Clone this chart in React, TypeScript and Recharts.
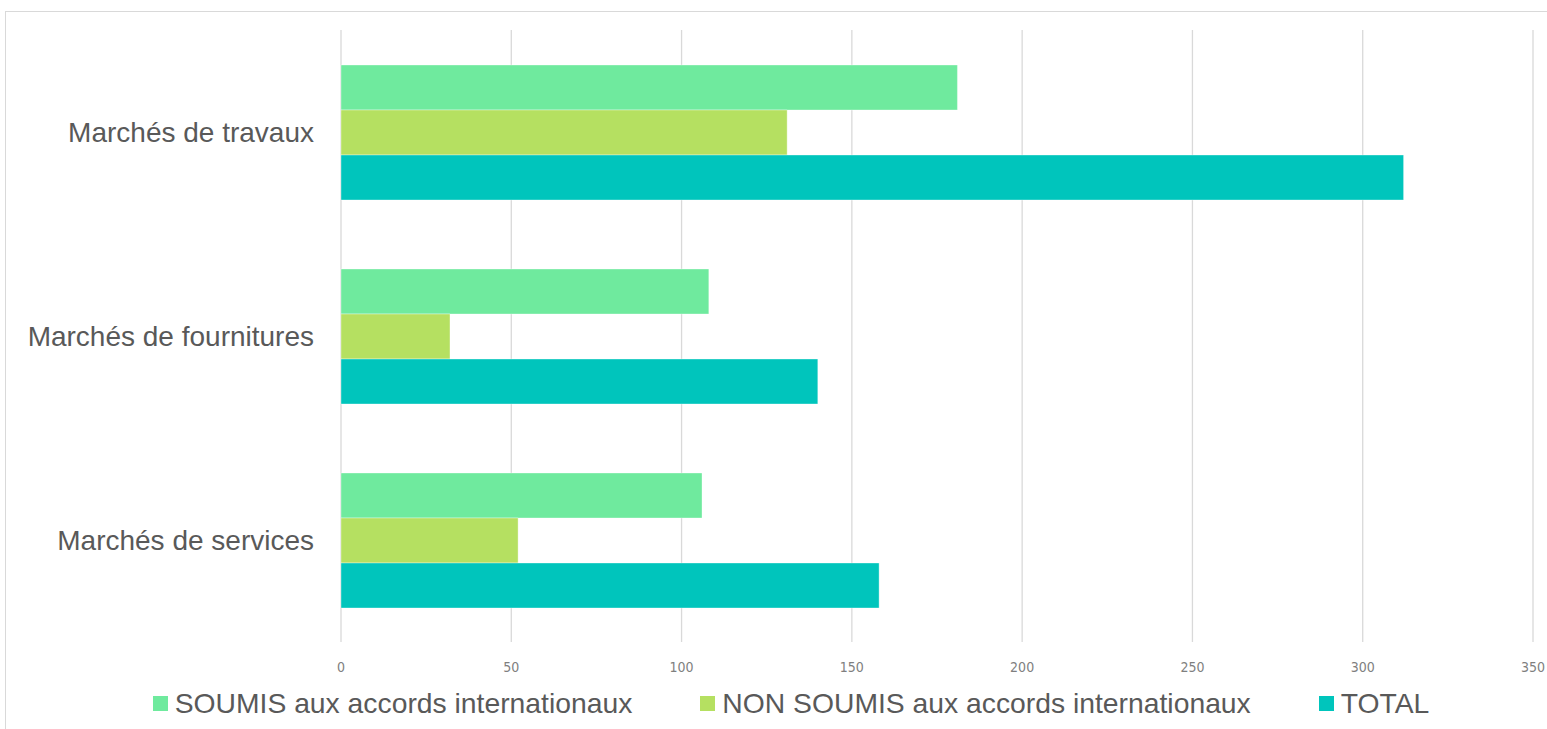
import { BarChart, Bar, XAxis, YAxis, CartesianGrid, Legend } from 'recharts';

const categories = ['Marchés de travaux', 'Marchés de fournitures', 'Marchés de services'];
const soumis = [181, 108, 106];
const nonSoumis = [131, 32, 52];
const total = [312, 140, 158];
const xTicks = [0, 50, 100, 150, 200, 250, 300, 350];

const series = [
  { key: 'soumis', name: 'SOUMIS aux accords internationaux', color: '#6FEA9E' },
  { key: 'nonSoumis', name: 'NON SOUMIS aux accords internationaux', color: '#B5E061' },
  { key: 'total', name: 'TOTAL', color: '#00C5BC' },
];

const data = categories.map((name, i) => ({
  name,
  soumis: soumis[i],
  nonSoumis: nonSoumis[i],
  total: total[i],
}));

const LegendContent = () => (
  <div
    style={{
      display: 'flex',
      justifyContent: 'center',
      gap: 68,
      fontFamily: '"Liberation Sans", Arial, sans-serif',
      fontSize: 28.3,
      color: '#595959',
      whiteSpace: 'nowrap',
    }}
  >
    {series.map((s) => (
      <div key={s.key} style={{ display: 'flex', alignItems: 'center' }}>
        <span style={{ width: 15, height: 15, background: s.color, marginRight: 7, display: 'inline-block' }} />
        <span>{s.name}</span>
      </div>
    ))}
  </div>
);

export default function App() {
  return (
    <div style={{ position: 'absolute', left: 0, top: 0, width: 1547, height: 729, overflow: 'hidden', background: '#fff' }}>
      <div style={{ position: 'absolute', left: 5, top: 11, border: '1px solid #d9d9d9', background: '#fff' }}>
        <BarChart
          width={1570}
          height={740}
          data={data}
          layout="vertical"
          barGap={0}
          margin={{ top: 18, right: 43, left: 0, bottom: 80 }}
        >
          <CartesianGrid horizontal={false} stroke="#d9d9d9" strokeWidth={1.3} />
          <XAxis
            type="number"
            domain={[0, 350]}
            ticks={xTicks}
            height={30}
            axisLine={false}
            tickLine={false}
            tickSize={0}
            tickMargin={20}
            tick={{ fontSize: 14, fill: '#7f7f7f', fontFamily: '"Liberation Sans Narrow", "DejaVu Sans Condensed", sans-serif' }}
          />
          <YAxis
            type="category"
            dataKey="name"
            width={335}
            axisLine={false}
            tickLine={false}
            tickSize={0}
            tickMargin={27}
            tick={{ fontSize: 28, fill: '#595959', fontFamily: '"Liberation Sans", Arial, sans-serif' }}
          />
          <Legend
            verticalAlign="top"
            content={LegendContent}
            wrapperStyle={{ top: 675, left: 0, width: 1570, height: 0, overflow: 'visible' }}
          />
          {series.map((s) => (
            <Bar
              key={s.key}
              dataKey={s.key}
              name={s.name}
              fill={s.color}
              barSize={45}
              stroke="#ffffff"
              strokeOpacity={0.35}
              isAnimationActive={false}
            />
          ))}
        </BarChart>
      </div>
    </div>
  );
}
